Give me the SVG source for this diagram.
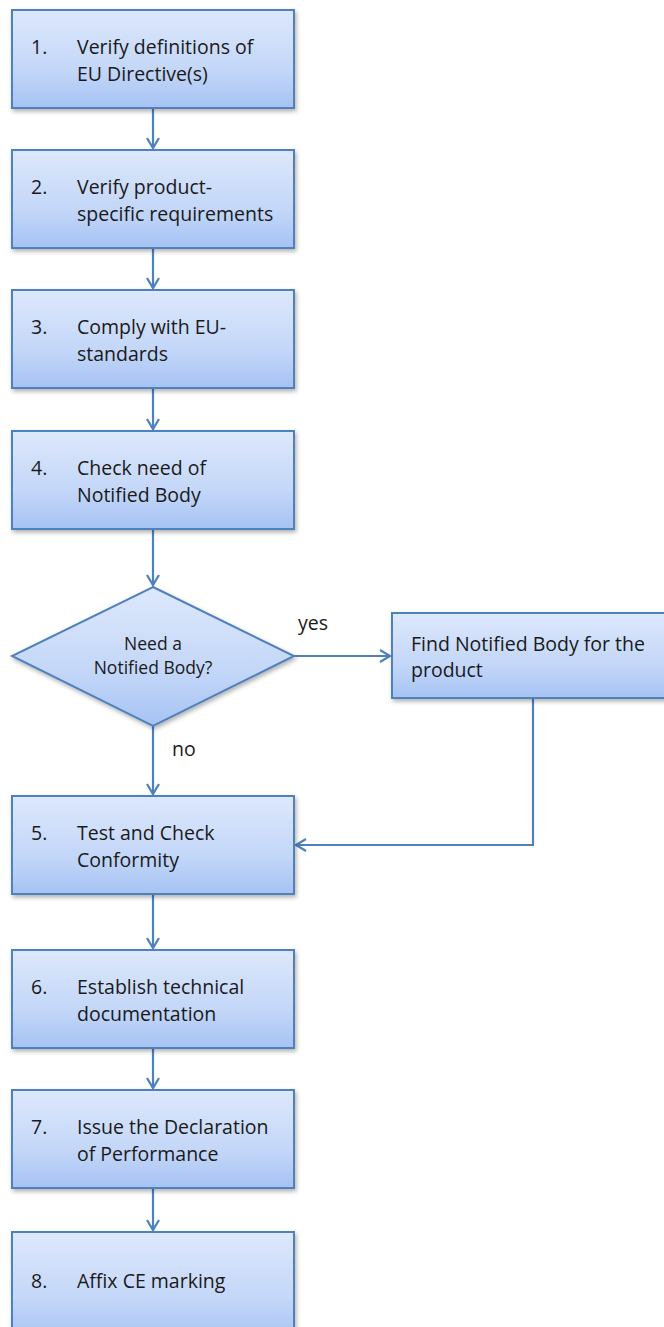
<svg xmlns="http://www.w3.org/2000/svg" width="664" height="1327" viewBox="0 0 664 1327">
<style>
.box{fill:url(#g);stroke:#4f81bd;stroke-width:2;filter:url(#sh)}
.t{font-family:"Open Sans","Liberation Sans",sans-serif;font-size:19.5px;fill:#1a1a1a}
.d{font-family:"Open Sans","Liberation Sans",sans-serif;font-size:17.5px;fill:#1a1a1a}
.c{fill:none;stroke:#4f81bd;stroke-width:2.2}
</style>
<defs>
<linearGradient id="g" x1="0" y1="0" x2="0" y2="1">
<stop offset="0" stop-color="#dde8fc"/>
<stop offset="0.6" stop-color="#c4d7f8"/>
<stop offset="1" stop-color="#a6c3f4"/>
</linearGradient>
<filter id="sh" x="-10%" y="-10%" width="130%" height="130%">
<feDropShadow dx="1.5" dy="2.5" stdDeviation="2" flood-color="#000" flood-opacity="0.3"/>
</filter>
<marker id="a" markerWidth="14" markerHeight="14" refX="11" refY="7" orient="auto" markerUnits="userSpaceOnUse">
<path d="M1,1 L11,7 L1,13" fill="none" stroke="#4f81bd" stroke-width="2.2"/>
</marker>
</defs>
<g id="connectors">
<line class="c" x1="153" y1="108" x2="153" y2="148" marker-end="url(#a)"/>
<line class="c" x1="153" y1="248" x2="153" y2="288" marker-end="url(#a)"/>
<line class="c" x1="153" y1="388" x2="153" y2="429" marker-end="url(#a)"/>
<line class="c" x1="153" y1="529" x2="153" y2="585" marker-end="url(#a)"/>
<line class="c" x1="294" y1="656" x2="390" y2="656" marker-end="url(#a)"/>
<line class="c" x1="153" y1="726" x2="153" y2="794" marker-end="url(#a)"/>
<polyline class="c" points="533,698 533,845 296,845" marker-end="url(#a)"/>
<line class="c" x1="153" y1="894" x2="153" y2="948" marker-end="url(#a)"/>
<line class="c" x1="153" y1="1048" x2="153" y2="1088" marker-end="url(#a)"/>
<line class="c" x1="153" y1="1188" x2="153" y2="1230" marker-end="url(#a)"/>
<text class="t" x="298" y="630">yes</text>
<text class="t" x="172" y="756">no</text>
</g>
<g id="n1"><rect class="box" x="12" y="10" width="282" height="98"/>
<text class="t" x="31" y="54">1.</text><text class="t" x="77" y="54">Verify definitions of</text><text class="t" x="77" y="81">EU Directive(s)</text></g>
<g id="n2"><rect class="box" x="12" y="150" width="282" height="98"/>
<text class="t" x="31" y="194">2.</text><text class="t" x="77" y="194">Verify product-</text><text class="t" x="77" y="221">specific requirements</text></g>
<g id="n3"><rect class="box" x="12" y="290" width="282" height="98"/>
<text class="t" x="31" y="334">3.</text><text class="t" x="77" y="334">Comply with EU-</text><text class="t" x="77" y="361">standards</text></g>
<g id="n4"><rect class="box" x="12" y="431" width="282" height="98"/>
<text class="t" x="31" y="475">4.</text><text class="t" x="77" y="475">Check need of</text><text class="t" x="77" y="502">Notified Body</text></g>
<g id="decision"><polygon class="box" points="153,587 294,656 153,726 12,656"/>
<text class="d" x="153" y="650" text-anchor="middle">Need a</text><text class="d" x="153" y="674" text-anchor="middle">Notified Body?</text></g>
<g id="find"><rect class="box" x="392" y="613" width="290" height="85"/>
<text class="t" x="411" y="651">Find Notified Body for the</text><text class="t" x="411" y="677">product</text></g>
<g id="n5"><rect class="box" x="12" y="796" width="282" height="98"/>
<text class="t" x="31" y="840">5.</text><text class="t" x="77" y="840">Test and Check</text><text class="t" x="77" y="867">Conformity</text></g>
<g id="n6"><rect class="box" x="12" y="950" width="282" height="98"/>
<text class="t" x="31" y="994">6.</text><text class="t" x="77" y="994">Establish technical</text><text class="t" x="77" y="1021">documentation</text></g>
<g id="n7"><rect class="box" x="12" y="1090" width="282" height="98"/>
<text class="t" x="31" y="1134">7.</text><text class="t" x="77" y="1134">Issue the Declaration</text><text class="t" x="77" y="1161">of Performance</text></g>
<g id="n8"><rect class="box" x="12" y="1232" width="282" height="110"/>
<text class="t" x="31" y="1288">8.</text><text class="t" x="77" y="1288">Affix CE marking</text></g>
</svg>
